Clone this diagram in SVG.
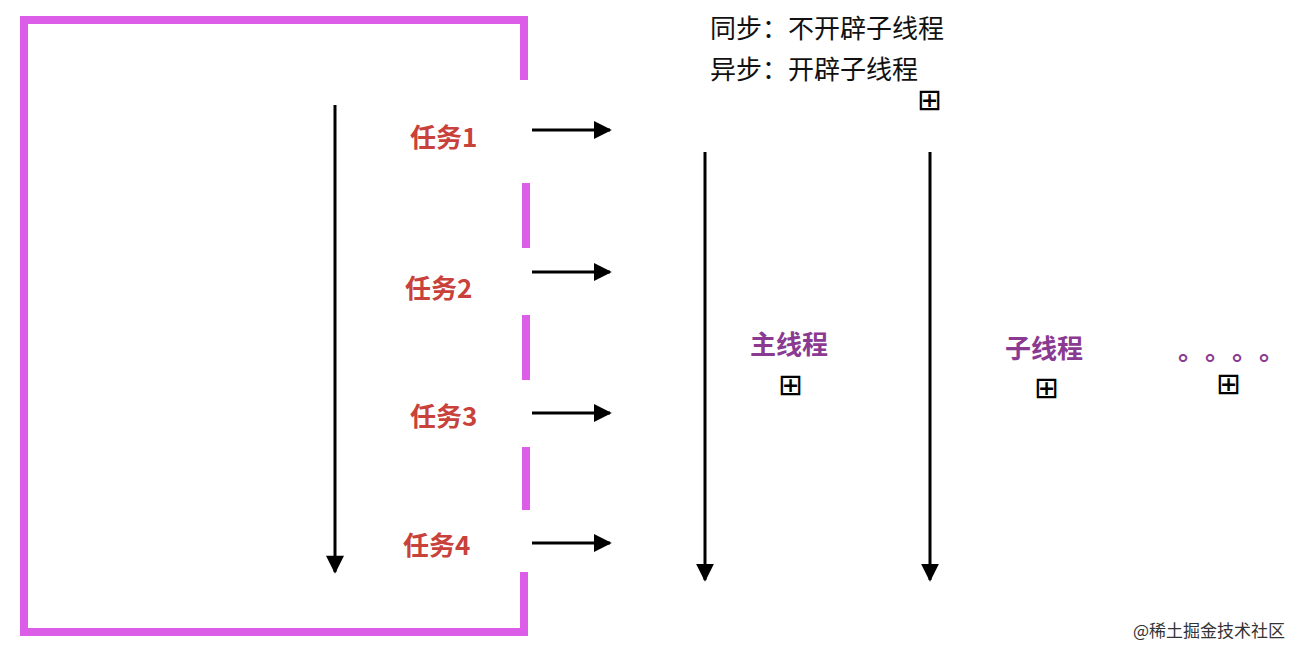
<svg xmlns="http://www.w3.org/2000/svg" width="1314" height="660" viewBox="0 0 1314 660">
<style>
.frame{stroke:#dc5de8;stroke-width:8;fill:none}
.ln{stroke:#000;stroke-width:3;fill:none}
.task{font-family:"Noto Sans CJK SC",sans-serif;font-weight:bold;font-size:26px;fill:#c8413a}
.thr{font-family:"Noto Sans CJK SC",sans-serif;font-weight:bold;font-size:26px;fill:#8a3a91}
.note{font-family:"Noto Sans CJK SC",sans-serif;font-size:26px;fill:#111}
.sym{font-family:"DejaVu Sans",sans-serif;font-size:30px;fill:#000}
</style>
<defs>
<marker id="ah" viewBox="0 0 10 10" refX="9" refY="5" markerWidth="7" markerHeight="6" orient="auto" markerUnits="strokeWidth"><path d="M0,0L10,5L0,10z" fill="#000"/></marker>
<marker id="ah2" viewBox="0 0 10 10" refX="9" refY="5" markerWidth="6" markerHeight="6" orient="auto" markerUnits="strokeWidth"><path d="M0,0L10,5L0,10z" fill="#000"/></marker>
</defs>
<rect width="1314" height="660" fill="#fff"/>
<g id="frame">
<path class="frame" d="M524,80V20H24V632H524V572"/>
<path class="frame" d="M526,183V248M526,315V380M526,447V510"/>
</g>
<g id="connectors">
<line class="ln" x1="335" y1="105" x2="335" y2="572" marker-end="url(#ah)"/>
<line class="ln" x1="705" y1="152" x2="705" y2="580" stroke-width="4" marker-end="url(#ah2)"/>
<line class="ln" x1="930" y1="152" x2="930" y2="580" stroke-width="4" marker-end="url(#ah2)"/>
<line class="ln" x1="532" y1="130" x2="610" y2="130" stroke-width="4" marker-end="url(#ah2)"/>
<line class="ln" x1="532" y1="272" x2="610" y2="272" stroke-width="4" marker-end="url(#ah2)"/>
<line class="ln" x1="532" y1="413" x2="610" y2="413" stroke-width="4" marker-end="url(#ah2)"/>
<line class="ln" x1="532" y1="543" x2="610" y2="543" stroke-width="4" marker-end="url(#ah2)"/>
</g>
<g id="task1"><text class="task" x="410" y="147">任务1</text></g>
<g id="task2"><text class="task" x="405" y="298">任务2</text></g>
<g id="task3"><text class="task" x="410" y="426">任务3</text></g>
<g id="task4"><text class="task" x="403" y="555">任务4</text></g>
<g id="notes">
<text class="note" x="710" y="38">同步：不开辟子线程</text>
<text class="note" x="710" y="79">异步：开辟子线程</text>
<text class="sym" x="917" y="110">⊞</text>
</g>
<g id="main"><text class="thr" x="750" y="354">主线程</text><text class="sym" x="778" y="395">⊞</text></g>
<g id="sub"><text class="thr" x="1005" y="358">子线程</text><text class="sym" x="1034" y="398">⊞</text></g>
<g id="more"><text class="thr" x="1178" y="360" font-size="20" letter-spacing="14">。。。。</text><text class="sym" x="1216" y="394">⊞</text></g>
<text x="1133" y="637" font-family="Noto Sans CJK SC,sans-serif" font-size="17" fill="#333">@稀土掘金技术社区</text>
</svg>
